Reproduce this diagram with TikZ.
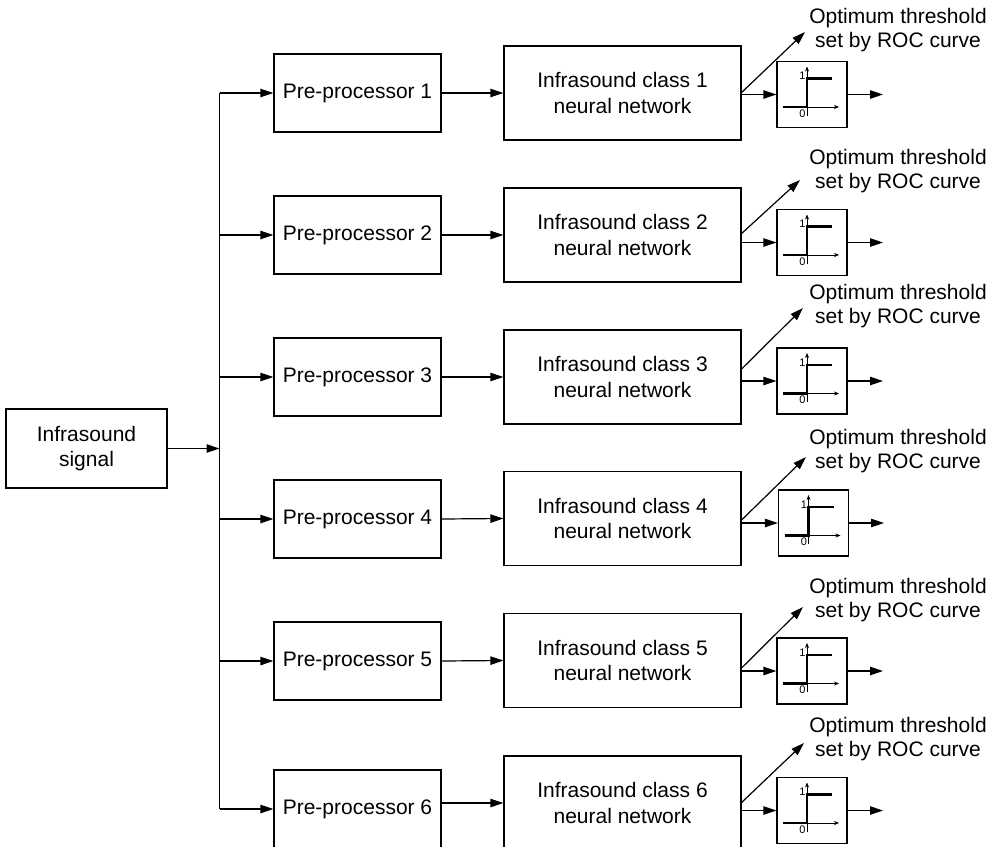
\documentclass[tikz,border=0pt]{standalone}
\usepackage{fontspec}
\setmainfont{Liberation Sans}
\usetikzlibrary{arrows.meta,calc}

\tikzset{
  blk/.style={draw, line width=0.6pt, inner sep=0pt, align=center, font=\fontsize{10.5}{12.8}\selectfont},
  sigbox/.style={blk, minimum width=80.5pt, minimum height=39.5pt},
  prebox/.style={blk, minimum width=83.5pt, minimum height=39pt},
  netbox/.style={blk, minimum width=118.5pt, minimum height=47pt},
  threshbox/.style={draw, line width=0.6pt, minimum width=35pt, minimum height=33pt},
  note/.style={align=center, inner sep=0pt, font=\fontsize{10.5}{12}\selectfont},
  sig/.style={line width=0.6pt, -{Triangle[length=6.5pt,width=4.2pt]}},
  axis/.style={line width=0.3pt, -{Stealth[length=2.5pt,width=2pt]}},
  lvl/.style={font=\fontsize{5.5}{6}\selectfont, inner sep=0pt, anchor=east}
}

% hard limiter drawn inside a threshold box
\newcommand{\stepfn}[1]{%
  \begin{scope}[shift={(#1.center)}]
    \draw[axis] (-29,12.5) -- (27,12.5);
    \draw[axis] (-5,21) -- (-5,-28);
    \draw[line width=1.1pt] (-29,12.5) -- (-5,12.5) -- (-5,-16) -- (20,-16);
    \node[lvl] at (-6,-18.5) {1};
    \node[lvl] at (-6,19) {0};
  \end{scope}}

\begin{document}
\begin{tikzpicture}[x=0.5pt, y=-0.5pt]
\clip (0,0) rectangle (994,846);

\node[sigbox] (sig) at (86.5,448.5) {Infrasound\\signal};
\coordinate (bus) at (219.5,448.5);

\node[prebox] (pre1) at (357.5,93) {Pre-processor 1};
\node[prebox] (pre2) at (357.5,235) {Pre-processor 2};
\node[prebox] (pre3) at (357.5,377) {Pre-processor 3};
\node[prebox] (pre4) at (357.5,519) {Pre-processor 4};
\node[prebox] (pre5) at (357.5,661) {Pre-processor 5};
\node[prebox] (pre6) at (357.5,809) {Pre-processor 6};

\node[netbox] (nn1) at (622.5,93) {Infrasound class 1\\neural network};
\node[netbox] (nn2) at (622.5,235) {Infrasound class 2\\neural network};
\node[netbox] (nn3) at (622.5,377) {Infrasound class 3\\neural network};
\node[netbox] (nn4) at (622.5,518.5) {Infrasound class 4\\neural network};
\node[netbox] (nn5) at (622.5,660.5) {Infrasound class 5\\neural network};
\node[netbox] (nn6) at (622.5,803) {Infrasound class 6\\neural network};

\node[threshbox] (th1) at (812,94.5) {};
\node[threshbox] (th2) at (812,242.5) {};
\node[threshbox] (th3) at (812,381) {};
\node[threshbox] (th4) at (813.5,523) {};
\node[threshbox] (th5) at (812,671) {};
\node[threshbox] (th6) at (812,810.5) {};
\stepfn{th1} \stepfn{th2} \stepfn{th3}
\stepfn{th4} \stepfn{th5} \stepfn{th6}

\node[note] (roc1) at (898,30) {Optimum threshold\\set by ROC curve};
\node[note] (roc2) at (898,171) {Optimum threshold\\set by ROC curve};
\node[note] (roc3) at (898,306) {Optimum threshold\\set by ROC curve};
\node[note] (roc4) at (898,451) {Optimum threshold\\set by ROC curve};
\node[note] (roc5) at (898,600) {Optimum threshold\\set by ROC curve};
\node[note] (roc6) at (898,739) {Optimum threshold\\set by ROC curve};

\coordinate (tip1) at (805,32);
\coordinate (tip2) at (800,180);
\coordinate (tip3) at (803,308);
\coordinate (tip4) at (806,457);
\coordinate (tip5) at (803,607);
\coordinate (tip6) at (804,743);

\coordinate (out1) at (883,94.5);
\coordinate (out2) at (883,242.5);
\coordinate (out3) at (883,381);
\coordinate (out4) at (884,523);
\coordinate (out5) at (883,671);
\coordinate (out6) at (883,810.5);

% input and bus
\draw[sig] (sig.east) -- (bus);
\draw[line width=0.6pt] (pre1.west -| bus) -- (pre6.west -| bus);
\draw[sig] (pre1.west -| bus) -- (pre1.west);
\draw[sig] (pre2.west -| bus) -- (pre2.west);
\draw[sig] (pre3.west -| bus) -- (pre3.west);
\draw[sig] (pre4.west -| bus) -- (pre4.west);
\draw[sig] (pre5.west -| bus) -- (pre5.west);
\draw[sig] (pre6.west -| bus) -- (pre6.west);

\draw[sig] (pre1.east) -- (nn1.west);
\draw[sig] (pre2.east) -- (nn2.west);
\draw[sig] (pre3.east) -- (nn3.west);
\draw[sig] (pre4.east) -- (nn4.west);
\draw[sig] (pre5.east) -- (nn5.west);
\draw[sig] (nn6.west -| pre6.east) -- (nn6.west);

% outputs
\draw[sig] (th1.west -| nn1.east) -- (th1.west);
\draw[sig] (th2.west -| nn2.east) -- (th2.west);
\draw[sig] (th3.west -| nn3.east) -- (th3.west);
\draw[sig] (th4.west -| nn4.east) -- (th4.west);
\draw[sig] (th5.west -| nn5.east) -- (th5.west);
\draw[sig] (th6.west -| nn6.east) -- (th6.west);

\draw[sig] ($(th1.west -| nn1.east)+(0,-2)$) -- (tip1);
\draw[sig] ($(th2.west -| nn2.east)+(0,-9)$) -- (tip2);
\draw[sig] ($(th3.west -| nn3.east)+(0,-12)$) -- (tip3);
\draw[sig] ($(th4.west -| nn4.east)+(0,-3)$) -- (tip4);
\draw[sig] ($(th5.west -| nn5.east)+(0,-3)$) -- (tip5);
\draw[sig] ($(th6.west -| nn6.east)+(0,-8)$) -- (tip6);

\draw[sig] (th1.east) -- (out1);
\draw[sig] (th2.east) -- (out2);
\draw[sig] (th3.east) -- (out3);
\draw[sig] (th4.east) -- (out4);
\draw[sig] (th5.east) -- (out5);
\draw[sig] (th6.east) -- (out6);
\end{tikzpicture}
\end{document}
